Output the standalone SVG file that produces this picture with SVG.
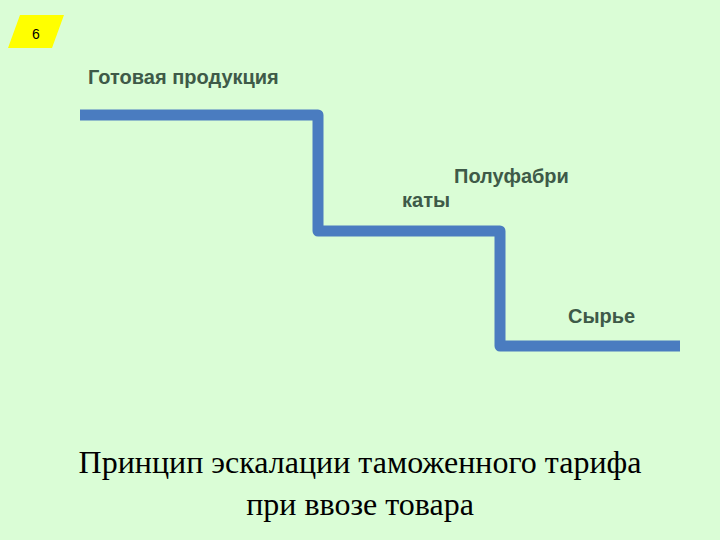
<svg xmlns="http://www.w3.org/2000/svg" width="720" height="540" viewBox="0 0 720 540">
<style>
.lbl{font-family:"Liberation Sans",Arial,sans-serif;font-size:20px;font-weight:bold;fill:#3e5a48}
.title{font-family:"Liberation Serif","Times New Roman",serif;font-size:32px;fill:#000;text-anchor:middle}
.step{fill:none;stroke:#4a7cc0;stroke-width:11;stroke-linejoin:round}
</style>
<rect width="720" height="540" fill="#dafdd6"/>
<g id="page-number">
<polygon points="20,15 64,15 52,48 8,48" fill="#ffff00"/>
<text x="36" y="39" font-family="Liberation Sans,Arial,sans-serif" font-size="14" text-anchor="middle" fill="#000">6</text>
</g>
<g id="connectors">
<polyline class="step" points="80,115 318,115 318,231 500,231 500,346 680,346"/>
</g>
<g id="finished"><text class="lbl" x="88" y="84">Готовая продукция</text></g>
<g id="semi"><text class="lbl" x="454" y="183">Полуфабри</text><text class="lbl" x="402" y="207">каты</text></g>
<g id="raw"><text class="lbl" x="568" y="323">Сырье</text></g>
<g id="caption">
<text class="title" x="360" y="473">Принцип эскалации таможенного тарифа</text>
<text class="title" x="360" y="515">при ввозе товара</text>
</g>
</svg>
